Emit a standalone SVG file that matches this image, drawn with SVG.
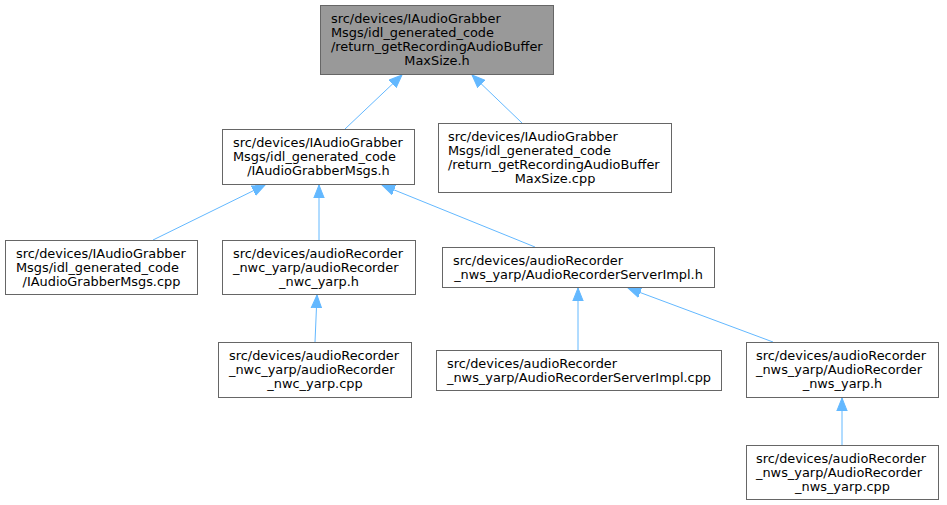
<svg xmlns="http://www.w3.org/2000/svg" width="947" height="505" viewBox="0 0 947 505">
<style>
.n rect{fill:#ffffff;stroke:#666666;stroke-width:1}
#nA rect{fill:#999999}
text{font-family:"DejaVu Sans",sans-serif;font-size:12.9px;fill:#000000}
.m{text-anchor:middle}
.e path{fill:none;stroke:#63b8ff;stroke-width:1;marker-end:url(#ah)}
</style>
<defs>
<marker id="ah" markerUnits="userSpaceOnUse" markerWidth="14" markerHeight="12" viewBox="0 0 14 12" refX="13" refY="6" orient="auto">
<path d="M0,0.8 L13,6 L0,11.2 z" fill="#63b8ff" stroke="#63b8ff" stroke-width="1"/>
</marker>
</defs>
<rect width="947" height="505" fill="#ffffff"/>
<g class="e" id="edges">
<path d="M345,129 L402,75"/>
<path d="M522,123 L472,75"/>
<path d="M153,240 L265,185"/>
<path d="M319,240 L319,185"/>
<path d="M535,247 L382,185"/>
<path d="M315,342 L317,295"/>
<path d="M578,350 L578,288"/>
<path d="M773,342 L628,288"/>
<path d="M842,445 L842,398"/>
</g>
<g class="n" id="nA">
<rect x="320.5" y="5.5" width="233" height="69"/>
<text x="331" y="22.5">src/devices/IAudioGrabber</text>
<text x="331" y="36.5">Msgs/idl_generated_code</text>
<text x="331" y="50.5">/return_getRecordingAudioBuffer</text>
<text class="m" x="437" y="64.5">MaxSize.h</text>
</g>
<g class="n" id="nB">
<rect x="222.5" y="129.5" width="192" height="55"/>
<text x="233" y="146.5">src/devices/IAudioGrabber</text>
<text x="233" y="160.5">Msgs/idl_generated_code</text>
<text class="m" x="318.5" y="174.5">/IAudioGrabberMsgs.h</text>
</g>
<g class="n" id="nC">
<rect x="438.5" y="123.5" width="233" height="69"/>
<text x="448" y="140.5">src/devices/IAudioGrabber</text>
<text x="448" y="154.5">Msgs/idl_generated_code</text>
<text x="448" y="168.5">/return_getRecordingAudioBuffer</text>
<text class="m" x="555" y="182.5">MaxSize.cpp</text>
</g>
<g class="n" id="nD">
<rect x="5.5" y="240.5" width="192" height="54"/>
<text x="16" y="257.5">src/devices/IAudioGrabber</text>
<text x="16" y="271.5">Msgs/idl_generated_code</text>
<text class="m" x="101.5" y="285.5">/IAudioGrabberMsgs.cpp</text>
</g>
<g class="n" id="nE">
<rect x="222.5" y="240.5" width="193" height="54"/>
<text x="233" y="257.5">src/devices/audioRecorder</text>
<text x="233" y="271.5">_nwc_yarp/audioRecorder</text>
<text class="m" x="319" y="285.5">_nwc_yarp.h</text>
</g>
<g class="n" id="nF">
<rect x="442.5" y="247.5" width="272" height="40"/>
<text x="453" y="264.5">src/devices/audioRecorder</text>
<text class="m" x="578.5" y="278.5">_nws_yarp/AudioRecorderServerImpl.h</text>
</g>
<g class="n" id="nG">
<rect x="218.5" y="342.5" width="193" height="55"/>
<text x="229" y="359.5">src/devices/audioRecorder</text>
<text x="229" y="373.5">_nwc_yarp/audioRecorder</text>
<text class="m" x="315" y="387.5">_nwc_yarp.cpp</text>
</g>
<g class="n" id="nH">
<rect x="436.5" y="350.5" width="285" height="40"/>
<text x="447" y="367.5">src/devices/audioRecorder</text>
<text class="m" x="579" y="381.5">_nws_yarp/AudioRecorderServerImpl.cpp</text>
</g>
<g class="n" id="nI">
<rect x="746.5" y="342.5" width="192" height="55"/>
<text x="756" y="359.5">src/devices/audioRecorder</text>
<text x="756" y="373.5">_nws_yarp/AudioRecorder</text>
<text class="m" x="842.5" y="387.5">_nws_yarp.h</text>
</g>
<g class="n" id="nJ">
<rect x="746.5" y="445.5" width="192" height="54"/>
<text x="756" y="462.5">src/devices/audioRecorder</text>
<text x="756" y="476.5">_nws_yarp/AudioRecorder</text>
<text class="m" x="842.5" y="490.5">_nws_yarp.cpp</text>
</g>
</svg>
